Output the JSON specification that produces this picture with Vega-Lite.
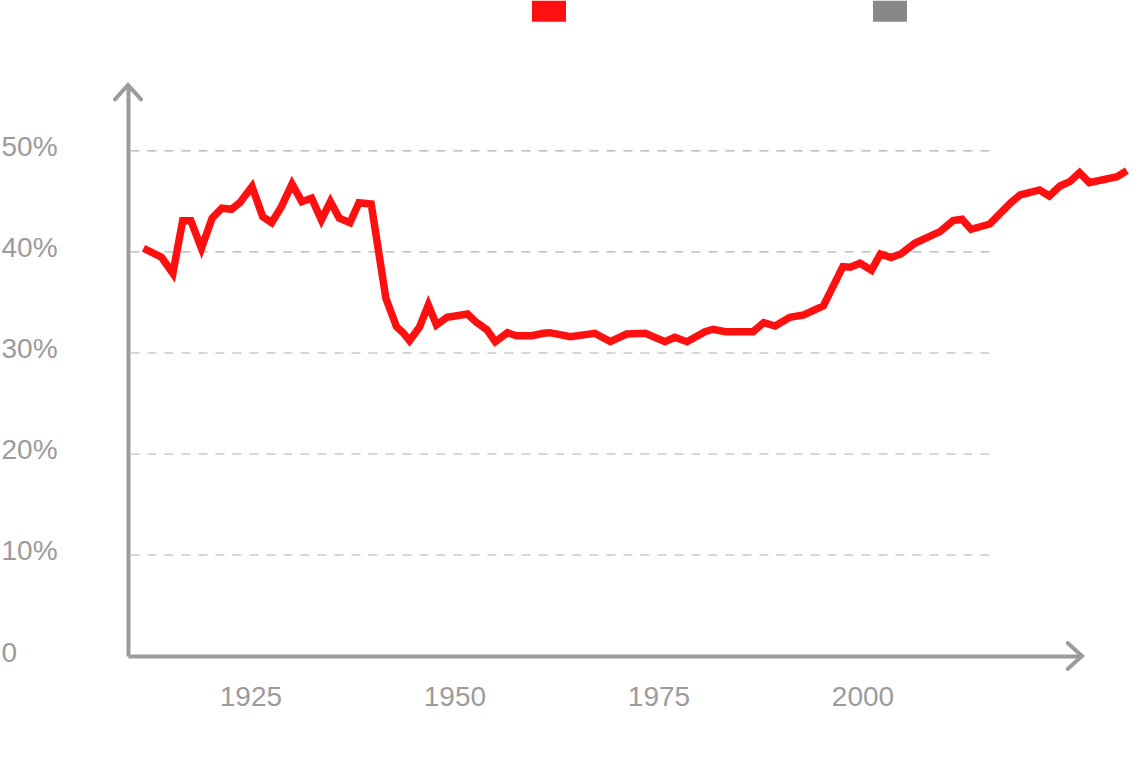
{
  "$schema": "https://vega.github.io/schema/vega-lite/v6.json",
  "width": 954,
  "height": 571,
  "autosize": "none",
  "padding": {"left": 128, "top": 85, "right": 58, "bottom": 114},
  "background": "white",
  "config": {
    "view": {"stroke": null},
    "font": "Liberation Sans",
    "axis": {
      "grid": false,
      "ticks": false,
      "domainColor": "#9b9b9b",
      "domainWidth": 4,
      "labelColor": "#9b9b9b",
      "labelFont": "Liberation Sans",
      "labelFontSize": 28,
      "title": null
    }
  },
  "layer": [
    {
      "data": {"values": [{"level": 10}, {"level": 20}, {"level": 30}, {"level": 40}, {"level": 50}]},
      "mark": {"type": "rule", "color": "#b0b0b0", "strokeDash": [9, 8], "strokeWidth": 1.2},
      "encoding": {
        "y": {"field": "level", "type": "quantitative", "title": null},
        "x": {"datum": 1910.3},
        "x2": {"datum": 2016.3}
      }
    },
    {
      "data": {"values": [
        {"year": 1911.9, "share": 40.37, "series": "United States"},
        {"year": 1914.1, "share": 39.48, "series": "United States"},
        {"year": 1915.5, "share": 37.89, "series": "United States"},
        {"year": 1916.7, "share": 43.10, "series": "United States"},
        {"year": 1917.7, "share": 43.10, "series": "United States"},
        {"year": 1919.0, "share": 40.37, "series": "United States"},
        {"year": 1920.3, "share": 43.34, "series": "United States"},
        {"year": 1921.5, "share": 44.33, "series": "United States"},
        {"year": 1922.7, "share": 44.23, "series": "United States"},
        {"year": 1923.7, "share": 44.88, "series": "United States"},
        {"year": 1925.2, "share": 46.47, "series": "United States"},
        {"year": 1926.5, "share": 43.50, "series": "United States"},
        {"year": 1927.6, "share": 42.90, "series": "United States"},
        {"year": 1928.8, "share": 44.49, "series": "United States"},
        {"year": 1930.1, "share": 46.73, "series": "United States"},
        {"year": 1931.3, "share": 44.98, "series": "United States"},
        {"year": 1932.5, "share": 45.32, "series": "United States"},
        {"year": 1933.7, "share": 43.17, "series": "United States"},
        {"year": 1934.8, "share": 44.98, "series": "United States"},
        {"year": 1935.9, "share": 43.34, "series": "United States"},
        {"year": 1937.2, "share": 42.90, "series": "United States"},
        {"year": 1938.3, "share": 44.88, "series": "United States"},
        {"year": 1939.8, "share": 44.75, "series": "United States"},
        {"year": 1941.6, "share": 35.42, "series": "United States"},
        {"year": 1942.9, "share": 32.60, "series": "United States"},
        {"year": 1943.7, "share": 32.01, "series": "United States"},
        {"year": 1944.5, "share": 31.22, "series": "United States"},
        {"year": 1945.7, "share": 32.54, "series": "United States"},
        {"year": 1946.8, "share": 34.75, "series": "United States"},
        {"year": 1947.8, "share": 32.77, "series": "United States"},
        {"year": 1949.1, "share": 33.53, "series": "United States"},
        {"year": 1951.6, "share": 33.86, "series": "United States"},
        {"year": 1952.6, "share": 33.10, "series": "United States"},
        {"year": 1954.0, "share": 32.28, "series": "United States"},
        {"year": 1955.0, "share": 31.12, "series": "United States"},
        {"year": 1956.5, "share": 32.01, "series": "United States"},
        {"year": 1957.6, "share": 31.71, "series": "United States"},
        {"year": 1959.5, "share": 31.71, "series": "United States"},
        {"year": 1960.9, "share": 31.95, "series": "United States"},
        {"year": 1961.7, "share": 32.01, "series": "United States"},
        {"year": 1964.2, "share": 31.61, "series": "United States"},
        {"year": 1967.2, "share": 31.95, "series": "United States"},
        {"year": 1969.1, "share": 31.12, "series": "United States"},
        {"year": 1971.1, "share": 31.88, "series": "United States"},
        {"year": 1973.4, "share": 31.95, "series": "United States"},
        {"year": 1975.8, "share": 31.12, "series": "United States"},
        {"year": 1977.0, "share": 31.55, "series": "United States"},
        {"year": 1978.5, "share": 31.12, "series": "United States"},
        {"year": 1980.7, "share": 32.11, "series": "United States"},
        {"year": 1981.7, "share": 32.35, "series": "United States"},
        {"year": 1983.2, "share": 32.11, "series": "United States"},
        {"year": 1986.6, "share": 32.11, "series": "United States"},
        {"year": 1987.9, "share": 33.00, "series": "United States"},
        {"year": 1989.3, "share": 32.67, "series": "United States"},
        {"year": 1991.1, "share": 33.53, "series": "United States"},
        {"year": 1992.8, "share": 33.76, "series": "United States"},
        {"year": 1995.2, "share": 34.65, "series": "United States"},
        {"year": 1997.6, "share": 38.55, "series": "United States"},
        {"year": 1998.5, "share": 38.49, "series": "United States"},
        {"year": 1999.7, "share": 38.88, "series": "United States"},
        {"year": 2001.1, "share": 38.19, "series": "United States"},
        {"year": 2002.2, "share": 39.80, "series": "United States"},
        {"year": 2003.5, "share": 39.44, "series": "United States"},
        {"year": 2004.7, "share": 39.80, "series": "United States"},
        {"year": 2006.4, "share": 40.86, "series": "United States"},
        {"year": 2009.5, "share": 42.01, "series": "United States"},
        {"year": 2011.1, "share": 43.10, "series": "United States"},
        {"year": 2012.2, "share": 43.24, "series": "United States"},
        {"year": 2013.3, "share": 42.25, "series": "United States"},
        {"year": 2015.6, "share": 42.77, "series": "United States"},
        {"year": 2018.1, "share": 44.82, "series": "United States"},
        {"year": 2019.3, "share": 45.64, "series": "United States"},
        {"year": 2021.7, "share": 46.14, "series": "United States"},
        {"year": 2022.9, "share": 45.54, "series": "United States"},
        {"year": 2024.2, "share": 46.53, "series": "United States"},
        {"year": 2025.4, "share": 46.96, "series": "United States"},
        {"year": 2026.6, "share": 47.85, "series": "United States"},
        {"year": 2027.8, "share": 46.86, "series": "United States"},
        {"year": 2031.2, "share": 47.46, "series": "United States"},
        {"year": 2032.4, "share": 48.05, "series": "United States"}
      ]},
      "mark": {"type": "line", "strokeWidth": 7.5, "strokeJoin": "miter", "strokeCap": "butt", "clip": false},
      "encoding": {
        "x": {
          "field": "year", "type": "quantitative", "title": null,
          "scale": {"domain": [1910, 2026.9], "nice": false, "zero": false},
          "axis": {"values": [1925, 1950, 1975, 2000], "format": "d", "labelPadding": 27, "labelBaseline": "top", "labelFlush": false, "labelOverlap": false}
        },
        "y": {
          "field": "share", "type": "quantitative", "title": null,
          "scale": {"domain": [0, 56.53], "nice": false, "zero": false},
          "axis": {"values": [0, 10, 20, 30, 40, 50], "labelExpr": "datum.value == 0 ? '0' : datum.value + '%'", "labelAlign": "left", "labelPadding": 127, "labelBaseline": "middle", "labelOffset": -3, "labelFlush": false, "labelOverlap": false}
        },
        "color": {
          "field": "series", "type": "nominal",
          "scale": {"domain": ["United States", "Europe"], "range": ["#ff1010", "#888888"]},
          "legend": {
            "title": null,
            "orient": "none",
            "direction": "horizontal",
            "legendX": 404,
            "legendY": -91,
            "padding": 0,
            "symbolType": "M -1 -0.62 L 1 -0.62 L 1 0.62 L -1 0.62 Z",
            "symbolSize": 1156,
            "symbolStrokeWidth": 0,
            "labelColor": "white",
            "labelFontSize": 20,
            "labelOffset": 10,
            "columnPadding": 176,
            "encode": {"symbols": {"update": {"fill": {"scale": "color", "field": "value"}, "fillOpacity": {"value": 1}, "strokeWidth": {"value": 0}}}}
          }
        }
      }
    },
    {
      "data": {"values": [{"end": "y"}]},
      "mark": {"type": "point", "shape": "M -1 1.1 L 0 0 L 1 1.1", "filled": false, "color": "#9b9b9b", "strokeWidth": 4, "size": 676, "strokeCap": "round", "opacity": 1, "clip": false},
      "encoding": {"x": {"datum": 1910}, "y": {"datum": 56.53}}
    },
    {
      "data": {"values": [{"end": "x"}]},
      "mark": {"type": "point", "shape": "M -1.1 -1 L 0 0 L -1.1 1", "filled": false, "color": "#9b9b9b", "strokeWidth": 4, "size": 676, "strokeCap": "round", "opacity": 1, "clip": false},
      "encoding": {"x": {"datum": 2026.9}, "y": {"datum": 0}}
    }
  ]
}
